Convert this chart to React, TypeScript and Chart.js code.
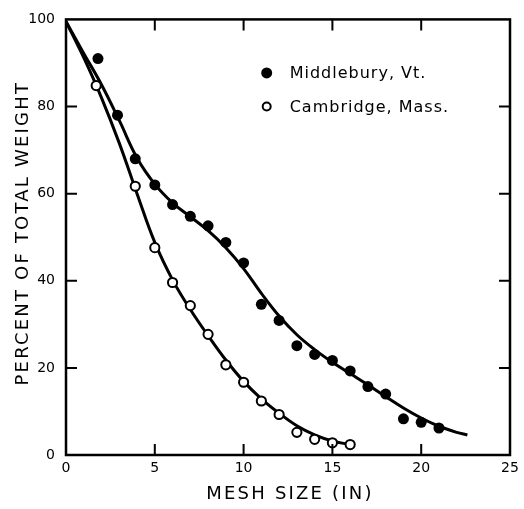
import React, { useEffect, useRef } from "react";
import { Chart, registerables } from "chart.js";

Chart.register(...registerables);

// Observed points
const MID_X = [1.8, 2.9, 3.9, 5, 6, 7, 8, 9, 10, 11, 12, 13, 14, 15, 16, 17, 18, 19, 20, 21];
const MID_Y = [91, 78, 68, 62, 57.5, 54.8, 52.6, 48.8, 44.1, 34.6, 30.9, 25.1, 23.1, 21.7, 19.3, 15.7, 14.0, 8.3, 7.5, 6.2];
const CAM_X = [1.7, 3.9, 5, 6, 7, 8, 9, 10, 11, 12, 13, 14, 15, 16];
const CAM_Y = [84.8, 61.7, 47.6, 39.6, 34.3, 27.7, 20.7, 16.7, 12.4, 9.3, 5.2, 3.6, 2.8, 2.4];

// Fitted curves
const MID_FIT_X = [0, 1, 2, 3, 4, 5, 6, 7, 8, 9, 10, 11, 12, 13, 14, 15, 16, 17, 18, 19, 20, 21, 22, 22.6];
const MID_FIT_Y = [99.5, 92.2, 85, 76.8, 68.2, 62.2, 57.9, 54.7, 51.5, 47.6, 42.8, 37.1, 31.9, 27.6, 24.2, 21.3, 18.7, 16.1, 13.4, 10.8, 8.5, 6.6, 5.2, 4.6];
const CAM_FIT_X = [0, 1, 2, 3, 4, 5, 6, 7, 8, 9, 10, 11, 12, 13, 14, 15, 16];
const CAM_FIT_Y = [99.5, 91.2, 82, 71.6, 60, 48.8, 40.2, 33.4, 27.4, 21.8, 16.9, 12.9, 9.6, 6.7, 4.6, 3.2, 2.4];

const X_TICKS = [0, 5, 10, 15, 20, 25];
const Y_TICKS = [0, 20, 40, 60, 80, 100];
const SERIES = ["Middlebury, Vt.", "Cambridge, Mass."];
const X_TITLE = "MESH SIZE (IN)";
const Y_TITLE = "PERCENT OF TOTAL WEIGHT";

const FONT = "'DejaVu Sans', sans-serif";

const zip = (xs: number[], ys: number[]) => xs.map((x, i) => ({ x, y: ys[i] }));

const decorPlugin = {
  id: "decor",
  afterDraw(chart: any) {
    const { ctx, chartArea: a, scales } = chart;
    const xs = scales.x;
    const ys = scales.y;
    ctx.save();
    ctx.strokeStyle = "#000";
    ctx.lineWidth = 2.5;
    ctx.strokeRect(a.left, a.top, a.right - a.left, a.bottom - a.top);
    const tl = 11;
    ctx.lineWidth = 2;
    ctx.beginPath();
    X_TICKS.slice(1, -1).forEach((v) => {
      const px = xs.getPixelForValue(v);
      ctx.moveTo(px, a.bottom);
      ctx.lineTo(px, a.bottom - tl);
      ctx.moveTo(px, a.top);
      ctx.lineTo(px, a.top + tl);
    });
    Y_TICKS.slice(1, -1).forEach((v) => {
      const py = ys.getPixelForValue(v);
      ctx.moveTo(a.left, py);
      ctx.lineTo(a.left + tl, py);
      ctx.moveTo(a.right, py);
      ctx.lineTo(a.right - tl, py);
    });
    ctx.stroke();

    // axis titles
    ctx.fillStyle = "#000";
    ctx.font = `18px ${FONT}`;
    (ctx as any).letterSpacing = "2.2px";
    ctx.textAlign = "center";
    ctx.textBaseline = "middle";
    ctx.fillText(X_TITLE, (a.left + a.right) / 2 + 2, 494);
    ctx.save();
    ctx.translate(23, (a.top + a.bottom) / 2 - 4);
    ctx.rotate(-Math.PI / 2);
    ctx.fillText(Y_TITLE, 0, 0);
    ctx.restore();

    // legend
    const lx = xs.getPixelForValue(11.3);
    const ly1 = ys.getPixelForValue(87.7);
    const ly2 = ys.getPixelForValue(80);
    ctx.beginPath();
    ctx.arc(lx, ly1, 5.5, 0, Math.PI * 2);
    ctx.fill();
    ctx.beginPath();
    ctx.arc(lx, ly2, 4, 0, Math.PI * 2);
    ctx.fillStyle = "#fff";
    ctx.fill();
    ctx.lineWidth = 2;
    ctx.stroke();
    ctx.fillStyle = "#000";
    ctx.font = `16px ${FONT}`;
    (ctx as any).letterSpacing = "1px";
    ctx.textAlign = "left";
    ctx.fillText(SERIES[0], lx + 23, ly1 + 1);
    ctx.fillText(SERIES[1], lx + 23, ly2 + 1);
    ctx.restore();
  },
};

export default function App() {
  const ref = useRef<HTMLCanvasElement | null>(null);
  useEffect(() => {
    const canvas = ref.current;
    if (!canvas) return;
    const chart = new Chart(canvas, {
      type: "scatter",
      data: {
        datasets: [
          {
            label: SERIES[0],
            data: zip(MID_X, MID_Y),
            showLine: false,
            pointRadius: 5.5,
            pointBackgroundColor: "#000",
            pointBorderColor: "#000",
            pointBorderWidth: 0,
          },
          {
            label: SERIES[1],
            data: zip(CAM_X, CAM_Y),
            showLine: false,
            pointRadius: 4.6,
            pointBackgroundColor: "#fff",
            pointBorderColor: "#000",
            pointBorderWidth: 2,
          },
          {
            label: "Middlebury fit",
            data: zip(MID_FIT_X, MID_FIT_Y),
            showLine: true,
            pointRadius: 0,
            borderColor: "#000",
            borderWidth: 3,
            tension: 0.4,
          },
          {
            label: "Cambridge fit",
            data: zip(CAM_FIT_X, CAM_FIT_Y),
            showLine: true,
            pointRadius: 0,
            borderColor: "#000",
            borderWidth: 3,
            tension: 0.4,
          },
        ],
      },
      options: {
        responsive: false,
        animation: false,
        devicePixelRatio: 1,
        layout: { padding: { left: 0, top: 17, right: 14, bottom: 0 } },
        plugins: { legend: { display: false }, tooltip: { enabled: false } },
        scales: {
          x: {
            type: "linear",
            min: 0,
            max: 25,
            grid: { display: false, drawTicks: false },
            border: { display: false },
            afterBuildTicks: (s: any) => {
              s.ticks = X_TICKS.map((v) => ({ value: v }));
            },
            ticks: { color: "#000", font: { family: FONT, size: 14 }, padding: 5, maxRotation: 0 },
            afterFit: (s: any) => {
              s.height = 54;
            },
          },
          y: {
            type: "linear",
            min: 0,
            max: 100,
            grid: { display: false, drawTicks: false },
            border: { display: false },
            afterBuildTicks: (s: any) => {
              s.ticks = Y_TICKS.map((v) => ({ value: v }));
            },
            ticks: { color: "#000", font: { family: FONT, size: 14 }, padding: 11 },
            afterFit: (s: any) => {
              s.width = 66;
            },
          },
        },
      },
      plugins: [decorPlugin],
    } as any);
    return () => chart.destroy();
  }, []);
  return (
    <div style={{ position: "absolute", left: 0, top: 0, width: 524, height: 509, background: "#fff" }}>
      <canvas ref={ref} width={524} height={509} style={{ display: "block" }} />
    </div>
  );
}
